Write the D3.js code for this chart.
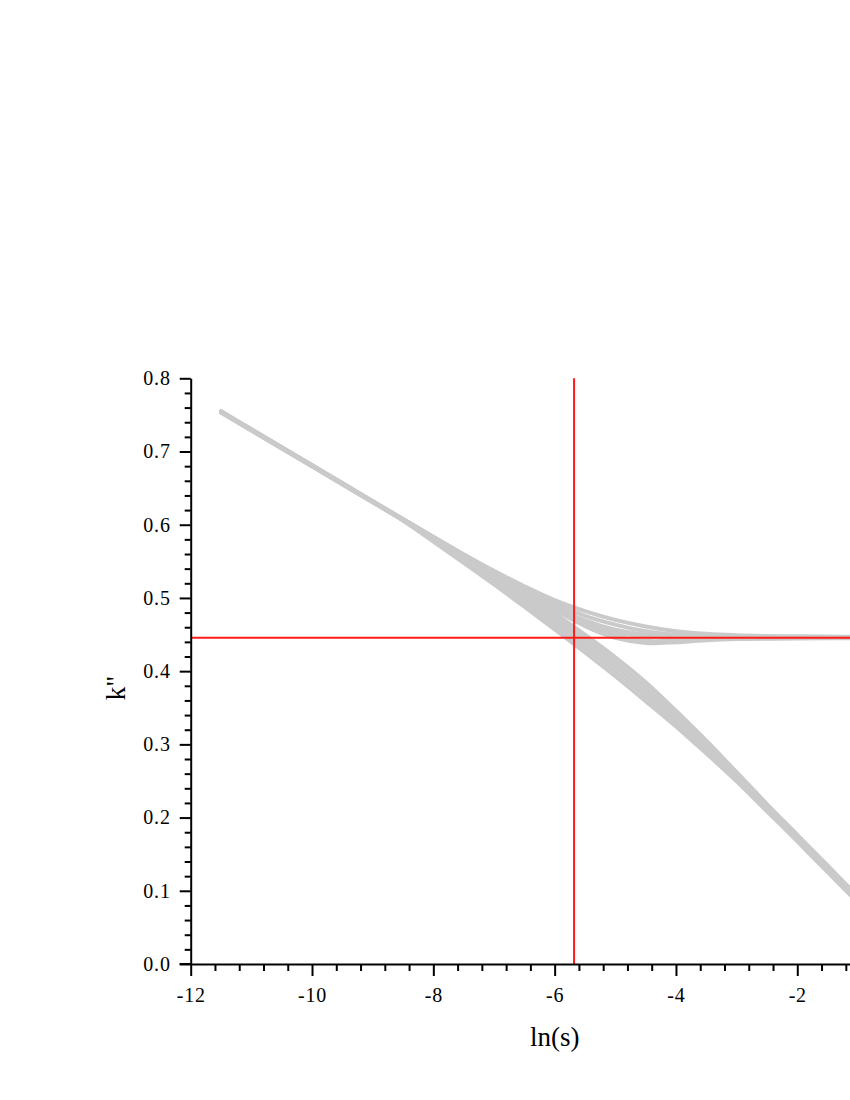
<!DOCTYPE html>
<html>
<head>
<meta charset="utf-8">
<script src="https://cdn.jsdelivr.net/npm/d3@7"></script>
<style>
  body { margin: 0; background: #fff; }
  svg text { font-family: "Liberation Serif", "Times New Roman", serif; fill: #000; }
</style>
</head>
<body>
<script>
// ln(s) sample points shared by every curve
var lnS = [-11.5, -11, -10.5, -10, -9.5, -9, -8.5, -8, -7.5, -7, -6.5, -6, -5.5, -5, -4.5, -4, -3.5, -3, -2.5, -2, -1.5, -1];

// k'' values, upper family (levels off near 0.446)
var upperA = [0.7545, 0.7300, 0.7055, 0.6810, 0.6565, 0.6320, 0.6075, 0.5830, 0.5585, 0.5340, 0.5095, 0.4858, 0.4652, 0.4523, 0.4477, 0.4466, 0.4463, 0.4462, 0.4462, 0.4462, 0.4462, 0.4462];
var upperB = [0.7540, 0.7295, 0.7050, 0.6805, 0.6560, 0.6315, 0.6071, 0.5826, 0.5581, 0.5339, 0.5102, 0.4880, 0.4693, 0.4566, 0.4501, 0.4474, 0.4463, 0.4459, 0.4458, 0.4458, 0.4458, 0.4458];
var upperF = [0.7548, 0.7303, 0.7058, 0.6813, 0.6568, 0.6321, 0.6076, 0.5832, 0.5590, 0.5352, 0.5125, 0.4925, 0.4755, 0.4635, 0.4545, 0.4497, 0.4478, 0.4468, 0.4465, 0.4464, 0.4464, 0.4464];
var upperC = [0.7550, 0.7305, 0.7060, 0.6815, 0.6570, 0.6322, 0.6078, 0.5836, 0.5597, 0.5370, 0.5160, 0.4970, 0.4820, 0.4700, 0.4610, 0.4545, 0.4510, 0.4490, 0.4480, 0.4475, 0.4472, 0.4470];
var upperD = [0.7538, 0.7293, 0.7048, 0.6803, 0.6558, 0.6313, 0.6068, 0.5823, 0.5578, 0.5332, 0.5086, 0.4840, 0.4615, 0.4455, 0.4385, 0.4395, 0.4422, 0.4438, 0.4444, 0.4447, 0.4448, 0.4448];
var upperE = [0.7542, 0.7297, 0.7052, 0.6807, 0.6562, 0.6317, 0.6072, 0.5827, 0.5582, 0.5336, 0.5091, 0.4848, 0.4628, 0.4478, 0.4414, 0.4417, 0.4436, 0.4448, 0.4451, 0.4452, 0.4453, 0.4453];

// k'' values, lower family (keeps falling)
var lowerA = [0.7546, 0.7301, 0.7056, 0.6811, 0.6566, 0.6320, 0.6074, 0.5825, 0.5575, 0.5320, 0.5060, 0.4790, 0.4500, 0.4190, 0.3850, 0.3460, 0.3050, 0.2620, 0.2185, 0.1765, 0.1345, 0.0925];
var lowerB = [0.7540, 0.7295, 0.7050, 0.6805, 0.6560, 0.6314, 0.6068, 0.5811, 0.5551, 0.5286, 0.5015, 0.4735, 0.4439, 0.4125, 0.3785, 0.3406, 0.3006, 0.2589, 0.2160, 0.1743, 0.1323, 0.0904];
var lowerC = [0.7536, 0.7291, 0.7046, 0.6801, 0.6556, 0.6310, 0.6064, 0.5798, 0.5528, 0.5253, 0.4970, 0.4680, 0.4378, 0.4060, 0.3720, 0.3353, 0.2963, 0.2558, 0.2135, 0.1720, 0.1300, 0.0883];
var lowerD = [0.7534, 0.7289, 0.7044, 0.6799, 0.6554, 0.6308, 0.6060, 0.5784, 0.5504, 0.5219, 0.4925, 0.4625, 0.4316, 0.3995, 0.3655, 0.3299, 0.2919, 0.2526, 0.2110, 0.1698, 0.1278, 0.0861];
var lowerE = [0.7532, 0.7287, 0.7042, 0.6797, 0.6552, 0.6306, 0.6057, 0.5770, 0.5480, 0.5185, 0.4880, 0.4570, 0.4255, 0.3930, 0.3590, 0.3245, 0.2875, 0.2495, 0.2085, 0.1675, 0.1255, 0.0840];

// red guide lines
var markLnS = -5.68;
var markK = 0.4455;

var xTicks = [-12, -10, -8, -6, -4, -2];
var yTicks = [0.0, 0.1, 0.2, 0.3, 0.4, 0.5, 0.6, 0.7, 0.8];

var width = 850, height = 1100;

var svg = d3.select("body").append("svg")
    .attr("width", width)
    .attr("height", height);

// plot frame, the x range runs past the page edge (it is cut off like the original)
var x = d3.scaleLinear().domain([-12, 0]).range([190.7, 918.6]);
var y = d3.scaleLinear().domain([0, 0.8]).range([964, 378.3]);

var line = d3.line()
    .x(function(d){ return x(d[0]); })
    .y(function(d){ return y(d[1]); })
    .curve(d3.curveCatmullRom.alpha(0.5));

var curves = [upperA, upperB, upperF, upperC, upperD, upperE, lowerA, lowerB, lowerC, lowerD, lowerE];

svg.append("g").selectAll("path")
    .data(curves)
    .enter()
    .append("path")
    .attr("d", function(vals){ return line(vals.map(function(v, i){ return [lnS[i], v]; })); })
    .attr("fill", "none")
    .attr("stroke", "#cacaca")
    .attr("stroke-width", 4)
    .attr("stroke-linecap", "round");

// red cross hair
svg.append("line")
    .attr("x1", x(markLnS)).attr("x2", x(markLnS))
    .attr("y1", y(0.8)).attr("y2", y(0))
    .attr("stroke", "#ff1a1a").attr("stroke-width", 2);
svg.append("line")
    .attr("x1", x(-12)).attr("x2", x(0))
    .attr("y1", y(markK)).attr("y2", y(markK))
    .attr("stroke", "#ff1a1a").attr("stroke-width", 2);

// axes: major + minor ticks
var xMinor = d3.range(-12, 0.01, 0.4).filter(function(v){ return Math.abs(v / 2 - Math.round(v / 2)) > 0.01; });
var yMinor = d3.range(0, 0.801, 0.02).filter(function(v){ return Math.abs(v * 10 - Math.round(v * 10)) > 0.01; });

svg.append("g")
    .attr("transform", "translate(0," + y(0) + ")")
    .call(d3.axisBottom(x).tickValues(xTicks.concat([0])).tickSize(12).tickSizeOuter(0).tickPadding(12)
        .tickFormat(function(d){ return d === 0 ? "" : String(d); }));
svg.append("g")
    .attr("transform", "translate(0," + y(0) + ")")
    .call(d3.axisBottom(x).tickValues(xMinor).tickSize(7).tickSizeOuter(0).tickFormat(""))
    .select(".domain").remove();

svg.append("g")
    .attr("transform", "translate(" + x(-12) + ",0)")
    .call(d3.axisLeft(y).tickValues(yTicks).tickSize(11).tickSizeOuter(0).tickPadding(9)
        .tickFormat(d3.format(".1f")));
svg.append("g")
    .attr("transform", "translate(" + x(-12) + ",0)")
    .call(d3.axisLeft(y).tickValues(yMinor).tickSize(6).tickSizeOuter(0).tickFormat(""))
    .select(".domain").remove();

svg.selectAll(".domain, .tick line")
    .attr("stroke", "#000")
    .attr("stroke-width", 2);
svg.selectAll(".tick text")
    .attr("font-family", "Liberation Serif, serif")
    .attr("font-size", 20)
    .attr("letter-spacing", 0.8);

// x axis line reaches out under the 0.0 tick
svg.append("line")
    .attr("x1", x(-12) - 11).attr("x2", x(-12))
    .attr("y1", y(0)).attr("y2", y(0))
    .attr("stroke", "#000").attr("stroke-width", 2);

// axis titles
svg.append("text")
    .attr("x", x(-6))
    .attr("y", 1046)
    .attr("text-anchor", "middle")
    .attr("font-size", 27)
    .text("ln(s)");

svg.append("text")
    .attr("transform", "translate(125,688) rotate(-90)")
    .attr("text-anchor", "middle")
    .attr("font-size", 27)
    .text("k\"");
</script>
</body>
</html>
